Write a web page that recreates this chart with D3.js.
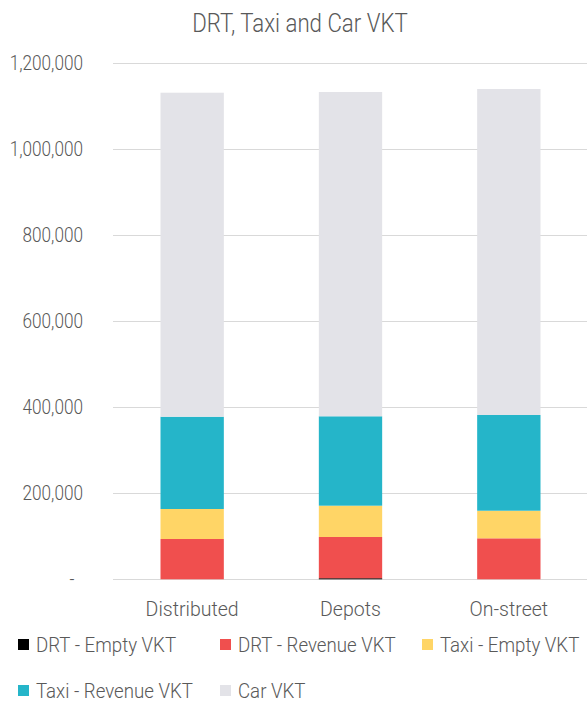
<!DOCTYPE html>
<html>
<head>
<meta charset="utf-8">
<script src="https://cdn.jsdelivr.net/npm/d3@7"></script>
<style>
  body { margin: 0; background: #fff; }
  svg text { font-family: Roboto, "Noto Sans", sans-serif; font-weight: 300; fill: #595959; }
</style>
</head>
<body>
<svg id="chart" width="587" height="702"></svg>
<script>
// Vehicle kilometres travelled per scenario
const categories = ["Distributed", "Depots", "On-street"];
const seriesNames = ["DRT - Empty VKT", "DRT - Revenue VKT", "Taxi - Empty VKT", "Taxi - Revenue VKT", "Car VKT"];
const drtEmpty    = [0, 2500, 0];
const drtRevenue  = [93700, 95900, 95300];
const taxiEmpty   = [69800, 72800, 64200];
const taxiRevenue = [214600, 207900, 222600];
const carVkt      = [753500, 754200, 758200];
const yTicks = [0, 200000, 400000, 600000, 800000, 1000000, 1200000];
const seriesColors = ["#000000", "#F04F4E", "#FFD566", "#25B5C9", "#E3E3E8"];

const seriesValues = [drtEmpty, drtRevenue, taxiEmpty, taxiRevenue, carVkt];
const rows = categories.map((c, i) => {
  const r = { category: c };
  seriesNames.forEach((s, j) => { r[s] = seriesValues[j][i]; });
  return r;
});

const svg = d3.select("#chart");
const W = 587;

// Squeeze text horizontally around its anchor point to get a condensed face
function condense(sel, k) {
  sel.each(function () {
    const ax = +(this.getAttribute("x") || 0);
    this.setAttribute("transform", `translate(${ax},0) scale(${k},1) translate(${-ax},0)`);
  });
}

const x = d3.scaleBand().domain(categories).range([113, 588]).paddingInner(0.6).paddingOuter(0.3);
const y = d3.scaleLinear().domain([0, 1200000]).range([579.3, 63.3]);

// Title
svg.append("text")
  .attr("x", 300).attr("y", 32)
  .attr("text-anchor", "middle")
  .style("font-size", "25px")
  .text("DRT, Taxi and Car VKT")
  .call(condense, 0.89);

// Gridlines
svg.append("g").selectAll("line").data(yTicks).join("line")
  .attr("x1", 113).attr("x2", W)
  .attr("y1", d => Math.round(y(d)) + 0.5).attr("y2", d => Math.round(y(d)) + 0.5)
  .attr("stroke", "#D9D9D9").attr("stroke-width", 1);

// Y axis labels
const yAxis = svg.append("g")
  .attr("transform", "translate(83,0)")
  .call(d3.axisLeft(y).tickValues(yTicks).tickSize(0).tickPadding(0)
    .tickFormat(d => d === 0 ? "-" : d3.format(",")(d)));
yAxis.select(".domain").remove();
yAxis.selectAll("text")
  .style("font-size", "20px").style("font-family", null)
  .attr("fill", null)
  .call(condense, 0.86);
yAxis.selectAll(".tick").filter(d => d === 0).select("text").attr("dx", -10);

// Stacked bars
const stack = d3.stack().keys(seriesNames);
const layers = stack(rows);
svg.append("g").selectAll("g").data(layers).join("g")
  .attr("fill", (d, i) => seriesColors[i])
  .selectAll("rect").data(d => d).join("rect")
  .attr("x", d => x(d.data.category))
  .attr("width", x.bandwidth())
  .attr("y", d => y(d[1]))
  .attr("height", d => Math.max(0, y(d[0]) - y(d[1])));

// Category labels
svg.append("g").selectAll("text").data(categories).join("text")
  .attr("x", d => x(d) + x.bandwidth() / 2)
  .attr("y", 616)
  .attr("text-anchor", "middle")
  .style("font-size", "21px")
  .text(d => d)
  .call(condense, 0.93);

// Legend in a three-column grid
const legend = svg.append("g");
const colStep = 202, rowStep = 46;
const items = legend.selectAll("g").data(seriesNames).join("g")
  .attr("transform", (d, i) => `translate(${18 + (i % 3) * colStep},${652 + Math.floor(i / 3) * rowStep})`);
items.append("rect")
  .attr("x", 0).attr("y", -13).attr("width", 11).attr("height", 11)
  .attr("fill", (d, i) => seriesColors[i]);
items.append("text")
  .attr("x", 18).attr("y", 0)
  .style("font-size", "21px")
  .text(d => d)
  .call(condense, 0.89);
</script>
</body>
</html>
